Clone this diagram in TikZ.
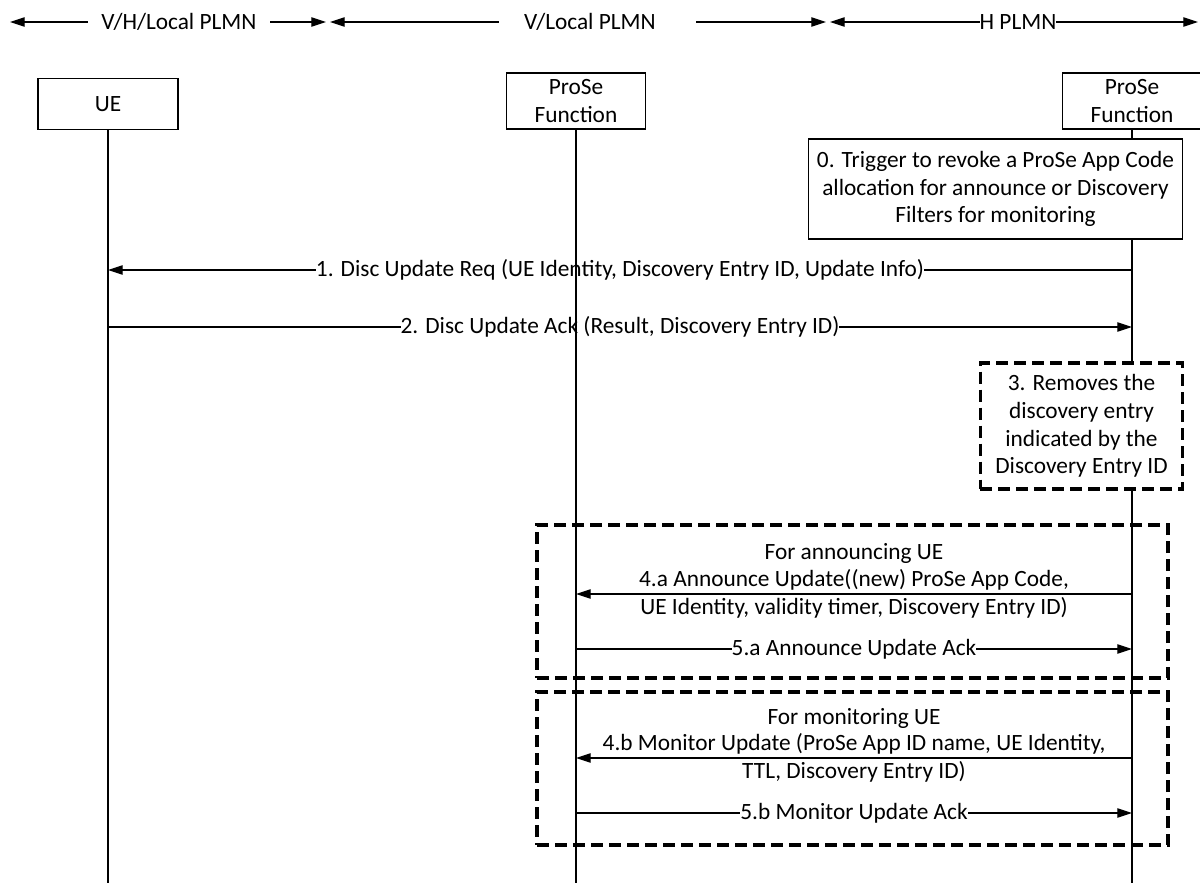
\documentclass[tikz,border=0pt]{standalone}
\usepackage{fontspec}
\setmainfont{Carlito}
\usetikzlibrary{arrows.meta}

\begin{document}
\begin{tikzpicture}[x=0.75pt, y=-0.75pt, >={Triangle[length=11pt,width=7pt]},
    every node/.style={font=\fontsize{17.5}{20.8}\selectfont},
    entity/.style={draw, line width=0.9pt, fill=white, align=center, inner sep=0pt},
    lifeline/.style={line width=0.9pt},
    msg/.style={line width=0.9pt, ->},
    onlbl/.style={fill=white, inner xsep=0pt, inner ysep=1pt},
    grpbox/.style={draw, line width=2.4pt, dash pattern=on 9pt off 4.5pt, inner sep=0pt}]
  \useasboundingbox (0,0) rectangle (1200,883);

  % domains
  \node[inner xsep=10pt] (dom1) at (179,22) {V/H/Local PLMN};
  \coordinate (dom1l) at (10,22);
  \coordinate (dom1r) at (326,22);
  \draw[msg] (dom1.west) -- (dom1l);
  \draw[msg] (dom1.east) -- (dom1r);
  \node[inner xsep=0pt] (dom2) at (590,22) {V/Local PLMN};
  \coordinate (dom2l) at (330,22);
  \coordinate (dom2r) at (826,22);
  \draw[msg] ([xshift=-19pt]dom2.west) -- (dom2l);
  \draw[msg] ([xshift=30pt]dom2.east) -- (dom2r);
  \coordinate (dom3l) at (830,22);
  \coordinate (dom3r) at (1198,22);
  \draw[msg, <->] (dom3l) -- (dom3r);
  \node[fill=white, inner xsep=0pt, inner ysep=1pt] (dom3) at (1018,22) {H PLMN};

  % entities
  \node[entity, minimum width=105pt, minimum height=38pt] (ue) at (108,104) {UE};
  \node[entity, minimum width=104pt, minimum height=42pt] (pfv) at (576,101) {ProSe\\Function};
  \node[entity, minimum width=104pt, minimum height=42pt] (pfh) at (1132,101) {ProSe\\Function};

  % messages
  \draw[msg] (pfh |- 0,270) -- node[onlbl] {1. Disc Update Req (UE Identity, Discovery Entry ID, Update Info)} (ue |- 0,270);
  \draw[msg] (ue |- 0,327) -- node[onlbl] {2. Disc Update Ack (Result, Discovery Entry ID)} (pfh |- 0,327);

  \node (annc) at (854,553) {For announcing UE};
  \draw[msg] (pfh |- 0,594) -- node[align=center] {4.a Announce Update((new) ProSe App Code,\\UE Identity, validity timer, Discovery Entry ID)} (pfv |- 0,594);
  \draw[msg] (pfv |- 0,649) -- node[onlbl] {5.a Announce Update Ack} (pfh |- 0,649);
  \node[grpbox, minimum width=473.25pt, minimum height=114.75pt] (grpa) at (852.5,601.5) {};

  \node (mont) at (854,718) {For monitoring UE};
  \draw[msg] (pfh |- 0,758) -- node[align=center] {4.b Monitor Update (ProSe App ID name, UE Identity,\\TTL, Discovery Entry ID)} (pfv |- 0,758);
  \draw[msg] (pfv |- 0,813) -- node[onlbl] {5.b Monitor Update Ack} (pfh |- 0,813);
  \node[grpbox, minimum width=473.25pt, minimum height=114.75pt] (grpb) at (852.5,768.5) {};

  % lifelines
  \coordinate (ueEnd) at (108,883);
  \coordinate (pfvEnd) at (576,883);
  \coordinate (pfhEnd) at (1132,883);
  \draw[lifeline] (ue) -- (ueEnd);
  \draw[lifeline] (pfv) -- (pfvEnd);
  \draw[lifeline] (pfh) -- (pfhEnd);

  % actions
  \node[entity, minimum width=281pt, minimum height=75pt] (trig) at (995.5,189)
    {0. Trigger to revoke a ProSe App Code\\allocation for announce or Discovery\\Filters for monitoring};
  \node[entity, grpbox, fill=white, align=center, minimum width=152pt, minimum height=94.5pt] (rmv) at (1081.5,426)
    {3. Removes the\\discovery entry\\indicated by the\\Discovery Entry ID};
\end{tikzpicture}
\end{document}
